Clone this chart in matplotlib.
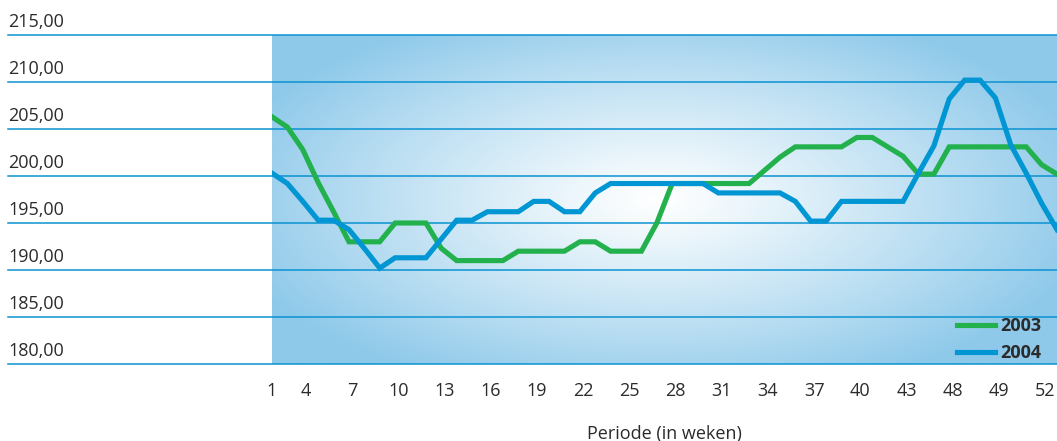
import numpy as np
import matplotlib.pyplot as plt
import matplotlib.transforms as mtransforms
from matplotlib.colors import to_rgb

plt.rcParams['font.family'] = ['Open Sans', 'DejaVu Sans']

# week numbers and weekly values
weeks = list(range(1, 53))
y2003 = [206.3, 205.2, 202.8, 199.3, 196.2, 193.0, 193.0, 193.0, 195.0, 195.0,
         195.0, 192.3, 191.0, 191.0, 191.0, 191.0, 192.0, 192.0, 192.0, 192.0,
         193.0, 193.0, 192.0, 192.0, 192.0, 195.0, 199.2, 199.2, 199.2, 199.2,
         199.2, 199.2, 200.6, 202.0, 203.1, 203.1, 203.1, 203.1, 204.1, 204.1,
         203.1, 202.1, 200.2, 200.2, 203.1, 203.1, 203.1, 203.1, 203.1, 203.1,
         201.2, 200.2]
y2004 = [200.3, 199.2, 197.3, 195.3, 195.3, 194.3, 192.3, 190.2, 191.3, 191.3,
         191.3, 193.3, 195.3, 195.3, 196.2, 196.2, 196.2, 197.3, 197.3, 196.2,
         196.2, 198.2, 199.2, 199.2, 199.2, 199.2, 199.2, 199.2, 199.2, 198.2,
         198.2, 198.2, 198.2, 198.2, 197.3, 195.2, 195.2, 197.3, 197.3, 197.3,
         197.3, 197.3, 200.3, 203.2, 208.2, 210.2, 210.2, 208.3, 203.3, 200.3,
         197.1, 194.3]

xticks = [1, 4, 7, 10, 13, 16, 19, 22, 25, 28, 31, 34, 37, 40, 43, 46, 49, 52]
xticklabels = ['1', '4', '7', '10', '13', '16', '19', '22', '25', '28', '31',
               '34', '37', '40', '43', '48', '49', '52']
yticks = [180, 185, 190, 195, 200, 205, 210, 215]

green = '#22b14c'
blue = '#0095d3'
grid_col = '#0a93d1'
text_col = '#2b2b2b'

W, H = 1057, 441
fig = plt.figure(figsize=(W / 100, H / 100), dpi=100)
ax = fig.add_axes([272 / W, 1 - 364 / H, 785 / W, 329 / H])
ax.set_xlim(1, 52)
ax.set_ylim(180, 215)

# radial gradient background (white centre, light blue edges)
nx, ny = 400, 200
gx = np.linspace(0, 1, nx)
gy = np.linspace(0, 1, ny)
X, Y = np.meshgrid(gx, gy)
d = np.sqrt(((X - 0.49) / 0.57) ** 2 + ((Y - 0.5) / 0.62) ** 2)
t = np.clip(d, 0, 1) ** 1.1
edge = np.array(to_rgb('#8ec9ea'))
img = np.ones((ny, nx, 3)) * (1 - t[..., None]) + edge * t[..., None]
img = np.clip(img, 0, 1)
ax.imshow(img, extent=[0, 1, 0, 1], transform=ax.transAxes, origin='lower',
          aspect='auto', zorder=0, interpolation='bilinear')

# grid lines reaching out under the y labels
for yv in yticks:
    ax.axhline(yv, xmin=-264 / 785, xmax=1, color=grid_col, lw=1.1,
               clip_on=False, zorder=1)

ax.plot(weeks, y2003, color=green, lw=3.7, label='2003', zorder=3,
        solid_joinstyle='miter')
ax.plot(weeks, y2004, color=blue, lw=3.7, label='2004', zorder=3,
        solid_joinstyle='miter')

for s in ax.spines.values():
    s.set_visible(False)

ax.set_yticks(yticks)
ax.set_yticklabels([f'{v:.2f}'.replace('.', ',') for v in yticks])
ax.tick_params(axis='y', length=0, pad=190, labelsize=13, labelcolor=text_col)
up = mtransforms.ScaledTranslation(0, 7.5 / 100, fig.dpi_scale_trans)
for lab in ax.get_yticklabels():
    lab.set_horizontalalignment('left')
    lab.set_verticalalignment('baseline')
    lab.set_transform(lab.get_transform() + up)

ax.set_xticks(xticks)
ax.set_xticklabels(xticklabels)
ax.tick_params(axis='x', length=0, pad=13, labelsize=13, labelcolor=text_col)
left = mtransforms.ScaledTranslation(-12 / 100, 0, fig.dpi_scale_trans)
for lab in ax.get_xticklabels()[1:]:
    lab.set_transform(lab.get_transform() + left)

ax.set_xlabel('Periode (in weken)', fontsize=13, color=text_col, labelpad=18)

leg = ax.legend(loc='lower right', bbox_to_anchor=(0.986, -0.009),
                frameon=False, prop={'weight': 'bold', 'size': 13},
                handlelength=2.1, handletextpad=0.3, labelspacing=0.5,
                borderaxespad=0.0, borderpad=0.25)
for t_ in leg.get_texts():
    t_.set_color(text_col)

fig.savefig('out.png', dpi=100)
